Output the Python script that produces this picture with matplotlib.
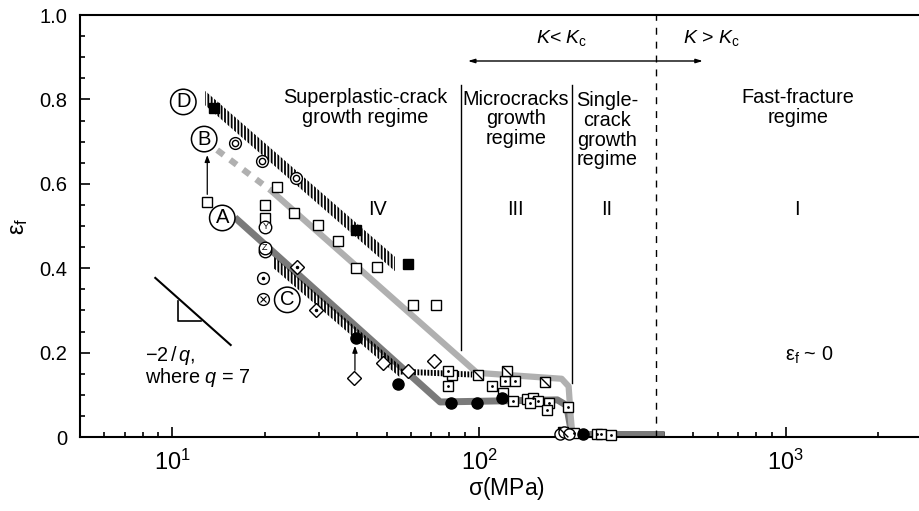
import matplotlib
matplotlib.use('Agg')
import matplotlib.pyplot as plt
import numpy as np
from matplotlib.path import Path

plt.rcParams['font.family'] = ['Liberation Sans', 'DejaVu Sans']
plt.rcParams['mathtext.fontset'] = 'custom'
plt.rcParams['mathtext.rm'] = 'Liberation Sans'
plt.rcParams['mathtext.it'] = 'Liberation Sans:italic'
plt.rcParams['hatch.linewidth'] = 1.3

# trend bands, sigma (MPa) vs strain to failure
curve_a_x = [16.0, 74.7, 180, 193, 198, 201, 403]
curve_a_y = [0.52, 0.083, 0.088, 0.075, 0.03, 0.006, 0.006]
curve_b_dash_x = [14.0, 20.9]
curve_b_dash_y = [0.68, 0.585]
curve_b_x = [20.9, 98.5, 186, 196, 199, 201]
curve_b_y = [0.585, 0.152, 0.138, 0.12, 0.05, 0.015]
curve_c_x = [21.3, 55.3]
curve_c_y = [0.415, 0.155]
curve_c_tail_x = [55.3, 95.0]
curve_c_tail_y = [0.155, 0.148]
curve_d_x = [12.8, 53.2]
curve_d_y = [0.803, 0.41]

# data symbols
open_sq_x = [13.0, 22.0, 20.1, 20.1, 24.9, 29.9, 34.8, 39.7, 46.5, 60.9, 72.4, 81.5, 119.7, 143]
open_sq_y = [0.557, 0.593, 0.55, 0.52, 0.53, 0.502, 0.465, 0.40, 0.403, 0.313, 0.313, 0.147, 0.104, 0.09]
dot_sq_x = [79.3, 79.3, 110, 121.6, 131, 129, 150, 156, 147, 169, 166, 195, 204, 242, 250, 269]
dot_sq_y = [0.156, 0.12, 0.12, 0.133, 0.133, 0.085, 0.092, 0.085, 0.08, 0.08, 0.064, 0.071, 0.01, 0.008, 0.008, 0.005]
slash_sq_x = [99.3, 123, 164, 188]
slash_sq_y = [0.147, 0.157, 0.13, 0.012]
black_circ_x = [39.7, 54.5, 81.1, 98.5, 118.9, 218]
black_circ_y = [0.235, 0.126, 0.08, 0.08, 0.092, 0.006]
open_circ_x = [184, 190, 196]
open_circ_y = [0.006, 0.012, 0.006]
open_dia_x = [39.2, 48.6, 58.7, 71.3]
open_dia_y = [0.14, 0.175, 0.157, 0.18]
dot_dia_x = [25.5, 29.4]
dot_dia_y = [0.403, 0.30]
ring_x = [16.0, 19.6, 25.4]
ring_y = [0.697, 0.654, 0.614]
black_sq_x = [13.7, 39.7, 58.7]
black_sq_y = [0.78, 0.49, 0.41]
letter_circ = [('Y', 20.1, 0.498), ('Z', 20.0, 0.448)]
dot_circ_x, dot_circ_y = [19.7], [0.377]
x_circ_x, x_circ_y = [19.7], [0.327]

band_labels = [('D', 10.86, 0.794), ('B', 12.7, 0.706), ('A', 14.55, 0.519), ('C', 23.7, 0.325)]

fig = plt.figure(figsize=(9.19, 5.11), dpi=100)
ax = fig.add_axes([80 / 919, 74 / 511, 852 / 919, 422 / 511])
ax.set_xscale('log')
ax.set_xlim(5, 3000)
ax.set_ylim(0, 1.0)

# grey bands
ax.plot(curve_a_x, curve_a_y, color='#7a7a7a', lw=5, solid_joinstyle='round', solid_capstyle='butt', zorder=2)
ax.plot(curve_b_x, curve_b_y, color='#b0b0b0', lw=4.5, solid_joinstyle='round', solid_capstyle='butt', zorder=2)
ax.plot(curve_b_dash_x, curve_b_dash_y, color='#b0b0b0', lw=4.5, ls=(0, (1.3, 1.3)), zorder=2)


def hatched_band(x, y, half):
    y = np.array(y)
    ax.fill_between(x, y - half, y + half, facecolor='none', edgecolor='black',
                    hatch='|||||', linewidth=0, zorder=2)


hatched_band(curve_d_x, curve_d_y, 0.017)
hatched_band(curve_c_x, curve_c_y, 0.014)
hatched_band(curve_c_tail_x, curve_c_tail_y, 0.007)

# symbols
kw = dict(ls='none', mec='black', mew=1.0, clip_on=False, zorder=4)
ax.plot(open_sq_x, open_sq_y, 's', ms=7, mfc='white', **kw)
ax.plot(dot_sq_x, dot_sq_y, 's', ms=6.5, mfc='white', **kw)
ax.plot(dot_sq_x, dot_sq_y, '.', ms=2, color='black', ls='none', clip_on=False, zorder=5)
diag = Path([(-1, 1), (1, -1)], [Path.MOVETO, Path.LINETO])
ax.plot(slash_sq_x, slash_sq_y, 's', ms=7, mfc='white', **kw)
ax.plot(slash_sq_x, slash_sq_y, marker=diag, ms=7, ls='none', mec='black', mew=1.0, clip_on=False, zorder=5)
ax.plot(open_circ_x, open_circ_y, 'o', ms=8, mfc='white', **kw)
ax.plot(black_circ_x, black_circ_y, 'o', ms=8, mfc='black', **kw)
ax.plot(open_dia_x, open_dia_y, 'D', ms=7, mfc='white', **kw)
ax.plot(dot_dia_x, dot_dia_y, 'D', ms=7, mfc='white', **kw)
ax.plot(dot_dia_x, dot_dia_y, '.', ms=3, color='black', ls='none', zorder=5)
ax.plot(ring_x, ring_y, 'o', ms=8.5, mfc='white', **kw)
ax.plot(ring_x, ring_y, 'o', ms=4.5, mfc='white', ls='none', mec='black', mew=1.0, zorder=5)
ax.plot(black_sq_x, black_sq_y, 's', ms=7, mfc='black', **kw)
for letter, lx, ly in letter_circ:
    if letter == 'Z':
        ax.plot([lx], [ly - 0.008], 'o', ms=9, mfc='white', **kw)
    ax.plot([lx], [ly], 'o', ms=9, mfc='white', **kw)
    ax.text(lx, ly, letter, fontsize=6.5, ha='center', va='center', zorder=6)
ax.plot(dot_circ_x, dot_circ_y, 'o', ms=8.5, mfc='white', **kw)
ax.plot(dot_circ_x, dot_circ_y, '.', ms=3, color='black', ls='none', zorder=5)
ax.plot(x_circ_x, x_circ_y, 'o', ms=8.5, mfc='white', **kw)
ax.plot(x_circ_x, x_circ_y, 'x', ms=4, mec='black', mew=0.8, ls='none', zorder=5)

for letter, lx, ly in band_labels:
    ax.text(lx, ly, letter, fontsize=14.5, ha='center', va='center',
            bbox=dict(boxstyle='circle,pad=0.16', fc='white', ec='black', lw=1.1), zorder=6)

# arrows from shifted points
arrow = dict(arrowstyle='-|>,head_length=0.4,head_width=0.15', color='black', lw=0.9, shrinkA=0, shrinkB=0)
ax.annotate('', xy=(13.0, 0.668), xytext=(13.0, 0.575), arrowprops=arrow)
ax.annotate('', xy=(39.4, 0.216), xytext=(39.4, 0.158), arrowprops=arrow)

# regime boundaries
ax.plot([87.3, 87.3], [0.206, 0.834], color='black', lw=1.0)
ax.plot([201, 201], [0.128, 0.834], color='black', lw=1.0)
ax.axvline(377.6, color='black', lw=1.0, ls=(0, (5, 5)))
ax.annotate('', xy=(92, 0.891), xytext=(537, 0.891),
            arrowprops=dict(arrowstyle='<|-|>,head_length=0.4,head_width=0.12', color='black', lw=1.0,
                            shrinkA=0, shrinkB=0))
ax.text(186, 0.946, r'$K$< $K_\mathrm{c}$', fontsize=14, ha='center', va='center')
ax.text(574, 0.946, r'$K$ > $K_\mathrm{c}$', fontsize=14, ha='center', va='center')

fs = 14.3
ax.text(42.5, 0.78, 'Superplastic-crack\ngrowth regime', fontsize=fs, ha='center', va='center', linespacing=1.05)
ax.text(132, 0.754, 'Microcracks\ngrowth\nregime', fontsize=fs, ha='center', va='center', linespacing=1.05)
ax.text(261, 0.727, 'Single-\ncrack\ngrowth\nregime', fontsize=fs, ha='center', va='center', linespacing=1.05)
ax.text(1094, 0.78, 'Fast-fracture\nregime', fontsize=fs, ha='center', va='center', linespacing=1.05)
for numeral, nx in [('IV', 46.5), ('III', 131), ('II', 261), ('I', 1086)]:
    ax.text(nx, 0.538, numeral, fontsize=fs, ha='center', va='center')
ax.text(1197, 0.194, r'$\mathrm{\varepsilon_f}$ ~ 0', fontsize=fs, ha='center', va='center')

# slope triangle
ax.plot([8.8, 15.5], [0.377, 0.218], color='black', lw=1.5)
ax.plot([10.4, 10.4, 12.4], [0.322, 0.275, 0.275], color='black', lw=1.2)
ax.text(8.17, 0.194, r'$-2\,/\,q$,', fontsize=fs, ha='left', va='center')
ax.text(8.17, 0.14, r'where $q$ = 7', fontsize=fs, ha='left', va='center')

# axes styling
for side in ['left', 'bottom', 'top', 'right']:
    ax.spines[side].set_linewidth(1.5)
ax.set_yticks([0, 0.2, 0.4, 0.6, 0.8, 1.0])
ax.set_yticklabels(['0', '0.2', '0.4', '0.6', '0.8', '1.0'])
ax.set_yticks(np.arange(0, 1.0001, 0.05), minor=True)
ax.set_xticks([10, 100, 1000])
ax.set_xticklabels([r'$10^{1}$', r'$10^{2}$', r'$10^{3}$'])
ax.tick_params(which='both', direction='in', width=1.2, top=False, right=False)
ax.tick_params(axis='y', labelsize=14.5)
ax.tick_params(axis='x', labelsize=17)
ax.tick_params(which='major', length=7, pad=9)
ax.tick_params(which='minor', length=3.5)
ax.set_xlabel(r'$\mathrm{\sigma}$(MPa)', fontsize=16.5, labelpad=0)
ax.set_ylabel(r'$\mathrm{\varepsilon_f}$', fontsize=17, labelpad=7)

fig.savefig('out.png', dpi=100)
